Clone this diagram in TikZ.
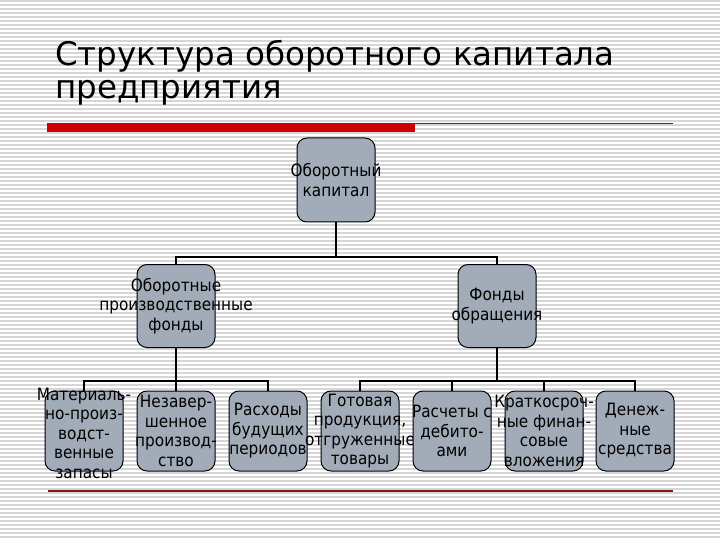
\documentclass[tikz,border=0pt]{standalone}
\usepackage{fontspec}
\setmainfont{DejaVu Sans}
\definecolor{boxfill}{RGB}{162,172,185}
\definecolor{bgline}{RGB}{214,214,214}
\definecolor{barred}{RGB}{204,0,0}
\definecolor{rule}{RGB}{125,25,25}
\begin{document}
\begin{tikzpicture}[x=1pt,y=-1pt]
\tikzstyle{b}=[draw,fill=boxfill,rounded corners=10pt,minimum width=78pt,minimum height=82pt,inner sep=0pt,line width=1pt]
\tikzstyle{t}=[align=center,inner sep=0pt,xscale=0.9,transform shape,font=\fontsize{17}{19.5}\selectfont]
\tikzstyle{ttl}=[anchor=base west,inner sep=0pt,font=\fontsize{32.5}{31}\selectfont]
\tikzstyle{con}=[line width=2pt]
\useasboundingbox (0,0) rectangle (720,540);
% striped background
\fill[white] (0,0) rectangle (720,540);
\foreach \y in {1,5,...,537} \draw[bgline,line width=1.6pt] (0,\y) -- (720,\y);
% title and rules
\node[ttl] (title1) at (55,66) {Структура оборотного капитала};
\node[ttl] (title2) at (55,99) {предприятия};
\fill[barred] (47,123) rectangle (415,132);
\draw[rule,line width=1pt] (415,123.5) -- (673,123.5);
\draw[rule,line width=1.2pt] (48,491) -- (673,491);
% top level
\node[b,minimum height=84pt] (root) at (336,180) {};
\node[t] (roott) at (root) {Оборотный\\капитал};
% second level
\node[b,minimum height=83pt] (prod) at (176,306) {};
\node[t] (prodt) at (prod) {Оборотные\\производственные\\фонды};
\node[b,minimum height=83pt] (obr) at (497,306) {};
\node[t] (obrt) at (obr) {Фонды\\обращения};
% third level
\node[b,minimum height=80pt] (m1) at (84,431) {};
\node[t] (m1t) at (84,433) {Материаль-\\но-произ-\\водст-\\венные\\запасы};
\node[b,minimum height=80pt] (m2) at (176,431) {};
\node[t] (m2t) at (m2) {Незавер-\\шенное\\производ-\\ство};
\node[b,minimum height=80pt] (m3) at (268,431) {};
\node[t] (m3t) at (m3) {Расходы\\будущих\\периодов};
\node[b,minimum height=80pt] (f1) at (360,431) {};
\node[t] (f1t) at (f1) {Готовая\\продукция,\\отгруженные\\товары};
\node[b,minimum height=80pt] (f2) at (452,431) {};
\node[t] (f2t) at (f2) {Расчеты с\\дебито-\\ами};
\node[b,minimum height=80pt] (f3) at (544,431) {};
\node[t] (f3t) at (f3) {Краткосроч-\\ные финан-\\совые\\вложения};
\node[b,minimum height=80pt] (f4) at (635,431) {};
\node[t] (f4t) at (f4) {Денеж-\\ные\\средства};
% connectors
\draw[con] (root.south) -- ++(0,34) -| (prod.north);
\draw[con] (root.south) -- ++(0,34) -| (obr.north);
\foreach \n in {m1,m2,m3} \draw[con] (prod.south) -- ++(0,33) -| (\n.north);
\foreach \n in {f1,f2,f3,f4} \draw[con] (obr.south) -- ++(0,33) -| (\n.north);
\end{tikzpicture}
\end{document}
